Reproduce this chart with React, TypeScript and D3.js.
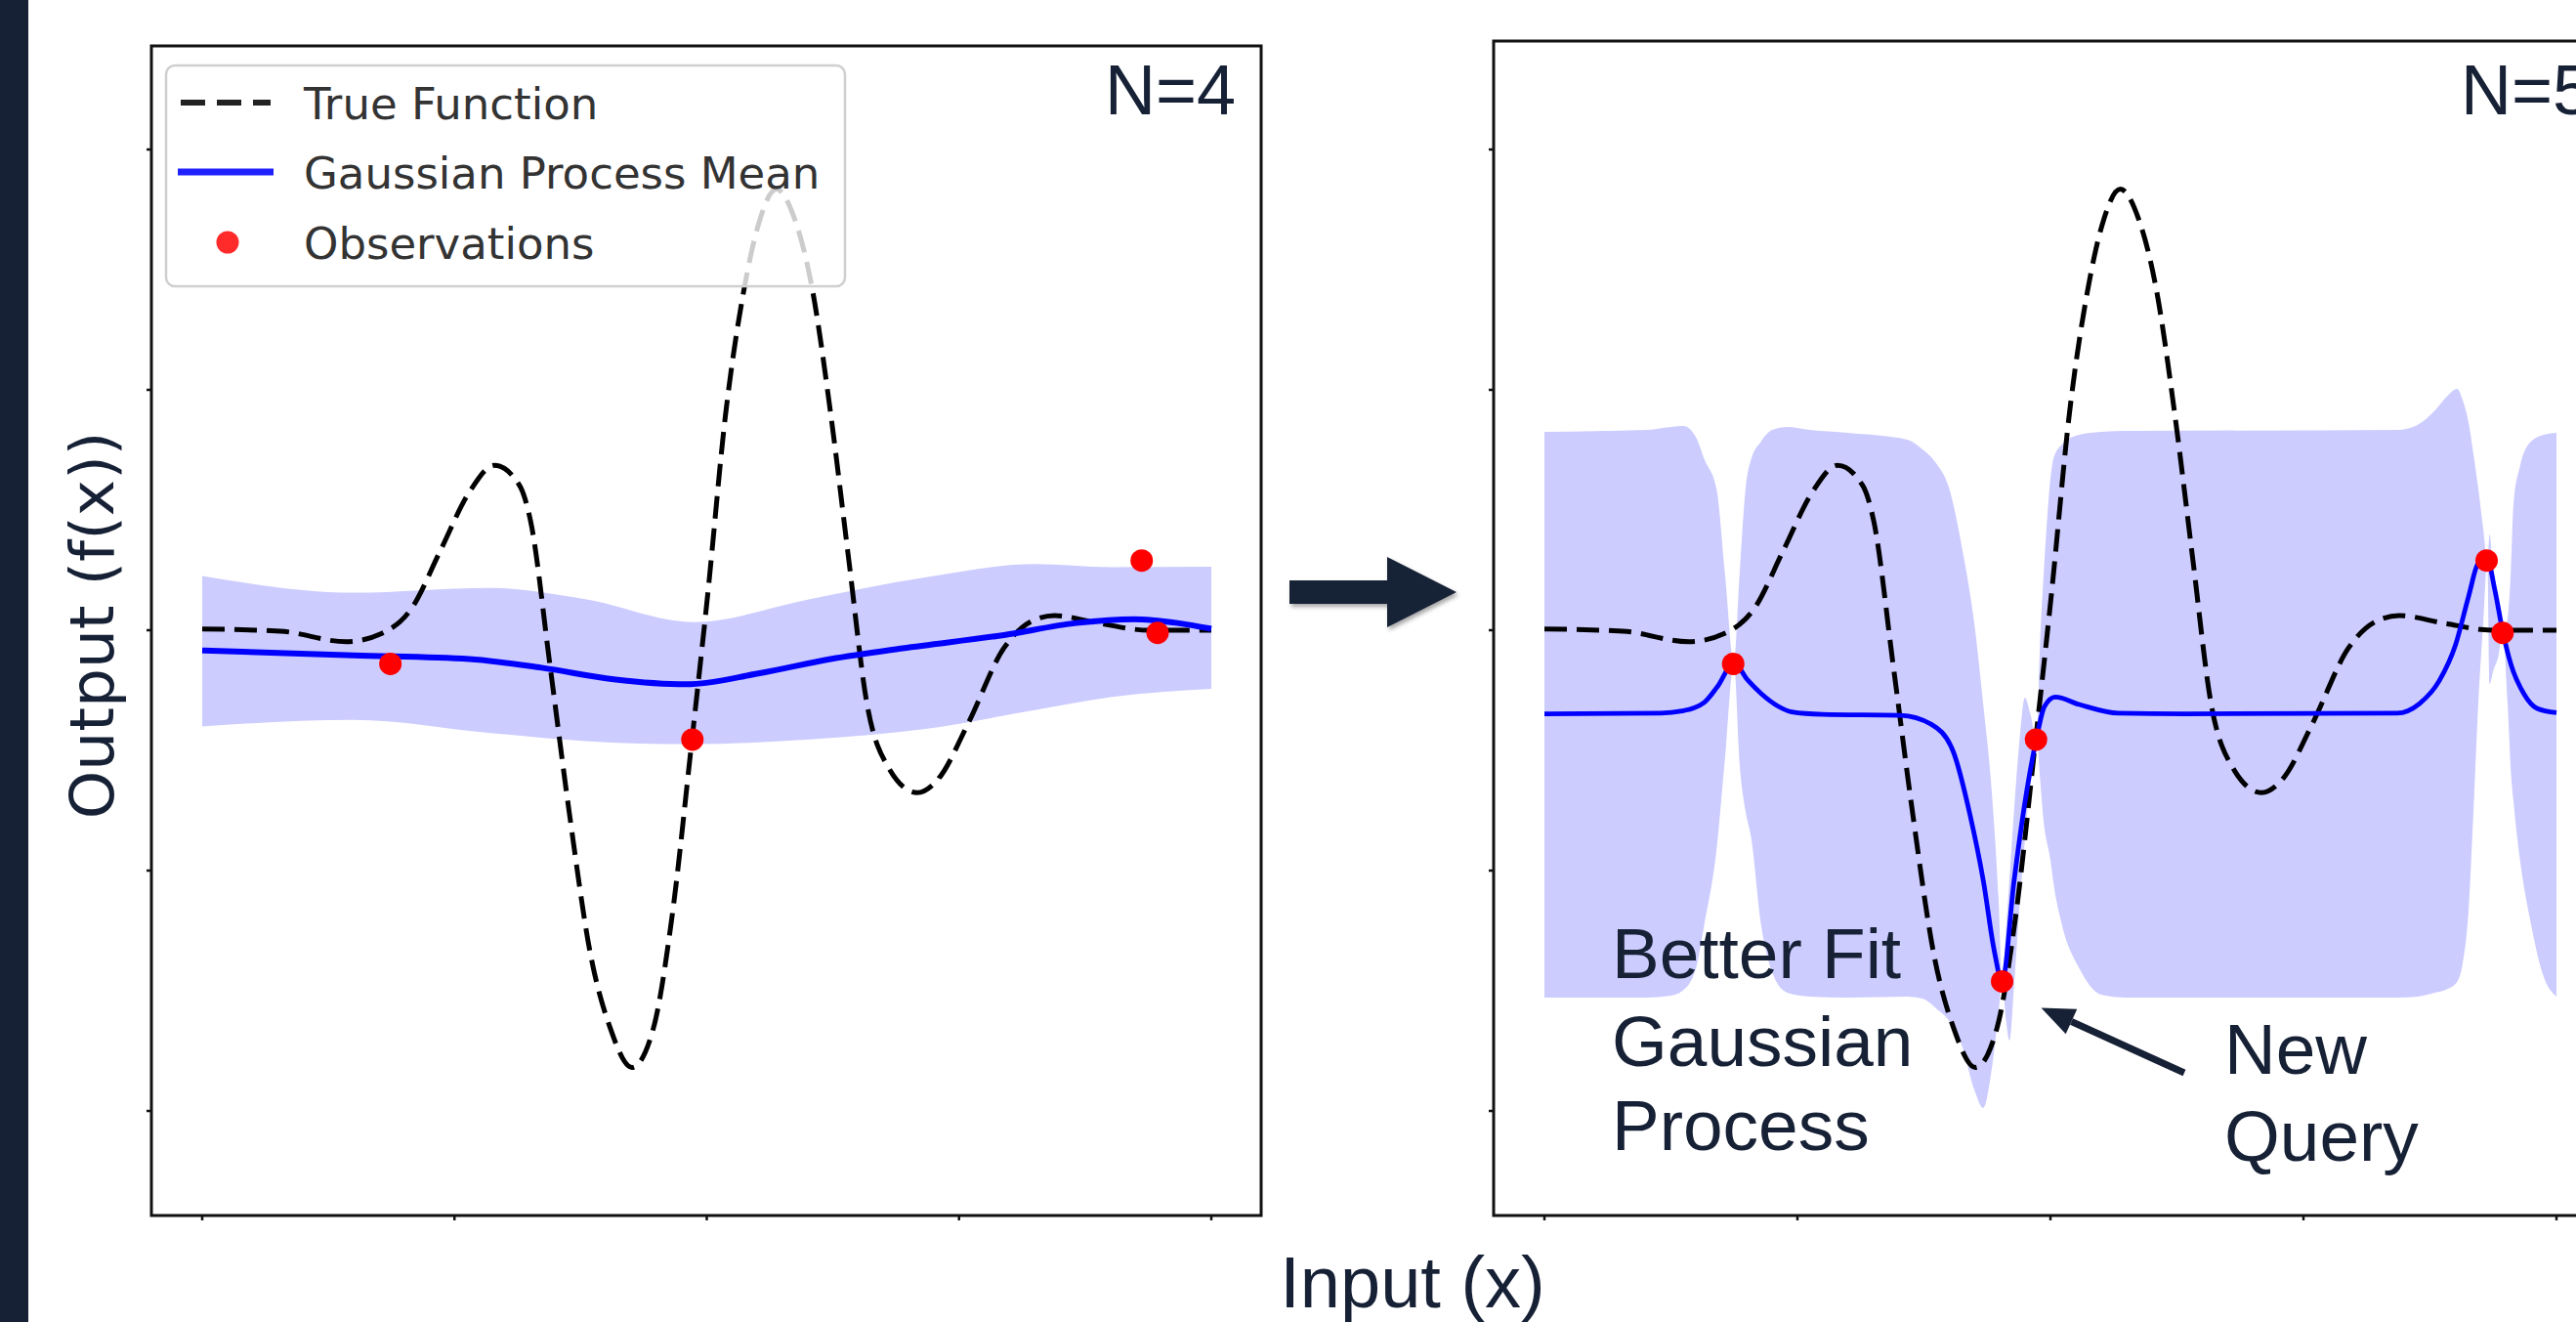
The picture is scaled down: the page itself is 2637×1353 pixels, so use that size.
import React from 'react';
import * as d3 from 'd3';

// values (x in [-2, 2], y in output units)
const trueFunction: [number, number][] = [
  [-2.0, 0.005], [-1.69, -0.004], [-1.43, -0.048], [-1.29, -0.014], [-1.17, 0.091],
  [-1.056, 0.331], [-0.942, 0.573], [-0.841, 0.686], [-0.742, 0.602], [-0.698, 0.452],
  [-0.621, -0.15], [-0.546, -0.751], [-0.46, -1.353], [-0.383, -1.654], [-0.297, -1.819],
  [-0.211, -1.654], [-0.139, -1.202], [-0.059, -0.459], [0.004, 0.151], [0.075, 0.902],
  [0.147, 1.414], [0.204, 1.685], [0.276, 1.835], [0.347, 1.715], [0.419, 1.415],
  [0.491, 0.902], [0.562, 0.301], [0.634, -0.3], [0.72, -0.571], [0.834, -0.676],
  [0.92, -0.616], [1.035, -0.39], [1.178, -0.074], [1.293, 0.04], [1.379, 0.061],
  [1.551, 0.03], [1.751, 0.0], [2.0, 0.0],
];

// N=4 : GP mean and band [x, lower, upper]
const meanN4: [number, number][] = [
  [-2.0, -0.084], [-1.4, -0.105], [-0.942, -0.12], [-0.655, -0.156], [-0.369, -0.204],
  [-0.082, -0.225], [0.204, -0.18], [0.491, -0.12], [0.777, -0.075], [1.178, -0.02],
  [1.465, 0.03], [1.694, 0.046], [1.866, 0.03], [2.0, 0.006],
];
const bandN4: [number, number, number][] = [
  [-2.0, -0.4, 0.226], [-1.4, -0.373, 0.156], [-0.867, -0.427, 0.176], [-0.482, -0.461, 0.129],
  [-0.052, -0.474, 0.034], [0.408, -0.454, 0.129], [0.852, -0.413, 0.217], [1.3, -0.332, 0.275],
  [1.6, -0.278, 0.262], [2.0, -0.244, 0.264],
];

// N=5 : GP mean and band [x, lower, upper]
const meanN5: [number, number][] = [
  [-2.0, -0.348], [-1.541, -0.345], [-1.456, -0.336], [-1.368, -0.3], [-1.317, -0.236],
  [-1.251, -0.137], [-1.197, -0.207], [-1.144, -0.263], [-1.075, -0.317], [-1.023, -0.34],
  [-0.9, -0.35], [-0.593, -0.354], [-0.472, -0.391], [-0.386, -0.5], [-0.317, -0.772],
  [-0.265, -1.044], [-0.222, -1.334], [-0.191, -1.461], [-0.144, -1.044], [-0.101, -0.717],
  [-0.055, -0.45], [-0.024, -0.318], [0.019, -0.278], [0.114, -0.309], [0.27, -0.345],
  [0.533, -0.348], [1.37, -0.345], [1.459, -0.305], [1.537, -0.21], [1.601, -0.061],
  [1.653, 0.142], [1.691, 0.278], [1.727, 0.294], [1.756, 0.17], [1.788, -0.007],
  [1.82, -0.142], [1.871, -0.264], [1.923, -0.325], [2.0, -0.343],
];
const bandN5: [number, number, number][] = [
  [-2.0, -1.528, 0.825], [-1.6, -1.528, 0.833], [-1.5, -1.52, 0.846], [-1.45, -1.496, 0.85],
  [-1.4, -1.402, 0.801], [-1.368, -1.224, 0.711], [-1.32, -0.915, 0.589], [-1.286, -0.528, 0.228],
  [-1.251, -0.138, -0.138], [-1.229, -0.549, 0.228], [-1.205, -0.752, 0.589], [-1.183, -0.862, 0.711],
  [-1.144, -1.224, 0.785], [-1.1, -1.423, 0.833], [-1.04, -1.508, 0.846], [-0.95, -1.524, 0.833],
  [-0.8, -1.528, 0.821], [-0.567, -1.524, 0.793], [-0.505, -1.533, 0.752], [-0.452, -1.573, 0.695],
  [-0.4, -1.626, 0.589], [-0.35, -1.728, 0.346], [-0.3, -1.915, 0.02], [-0.266, -1.988, -0.305],
  [-0.232, -1.825, -0.671], [-0.205, -1.589, -1.118], [-0.191, -1.463, -1.463], [-0.175, -1.626, -1.24],
  [-0.162, -1.707, -1.037], [-0.144, -1.484, -0.752], [-0.123, -1.159, -0.467], [-0.101, -0.874, -0.28],
  [-0.08, -0.63, -0.346], [-0.055, -0.451, -0.451], [-0.04, -0.63, -0.02], [-0.027, -0.793, 0.228],
  [0.0, -0.955, 0.63], [0.011, -1.045, 0.711], [0.045, -1.224, 0.772], [0.114, -1.407, 0.813],
  [0.2, -1.516, 0.825], [0.3, -1.528, 0.829], [1.37, -1.528, 0.833], [1.45, -1.524, 0.854],
  [1.52, -1.508, 0.915], [1.57, -1.492, 0.976], [1.607, -1.463, 1.004], [1.63, -1.382, 0.955],
  [1.653, -1.159, 0.862], [1.672, -0.752, 0.732], [1.691, -0.305, 0.589], [1.71, 0.02, 0.427],
  [1.727, 0.293, 0.293], [1.736, -0.224, 0.398], [1.75, -0.17, 0.224], [1.77, -0.11, 0.081],
  [1.788, -0.008, -0.008], [1.807, -0.305, 0.049], [1.82, -0.589, 0.252], [1.83, -0.711, 0.52],
  [1.856, -0.955, 0.683], [1.895, -1.199, 0.78], [1.95, -1.443, 0.813], [2.0, -1.524, 0.821],
];

const observations: [number, number][] = [
  [-1.254, -0.14], [-0.057, -0.455], [1.724, 0.29], [1.787, -0.011],
];
const newQuery: [number, number][] = [[-0.191, -1.461]];

const xTicks = [-2, -1, 0, 1, 2];
const yTicks = [-2, -1, 0, 1, 2];
const legendItems = ['True Function', 'Gaussian Process Mean', 'Observations'];

const W = 2637;
const H = 1353;
const NAVY = '#172136';
const BAND = '#ccccff';
const BLUE = '#0000ff';
const RED = '#ff0000';
const SLIDE_FONT = "'Liberation Sans', Arial, sans-serif";
const MPL_FONT = "'DejaVu Sans', sans-serif";

const yScale = d3.scaleLinear().domain([-2, 2]).range([1137, 153]);

type PanelProps = {
  id: string;
  frame: { x: number; y: number; w: number; h: number };
  xScale: d3.ScaleLinear<number, number>;
  band: [number, number, number][];
  mean: [number, number][];
  points: [number, number][];
  meanWidth: number;
};

function Panel({ id, frame, xScale, band, mean, points, meanWidth }: PanelProps) {
  const area = d3.area<[number, number, number]>()
    .x(d => xScale(d[0]))
    .y0(d => yScale(d[1]))
    .y1(d => yScale(d[2]))
    .curve(d3.curveMonotoneX);
  const line = d3.line<[number, number]>()
    .x(d => xScale(d[0]))
    .y(d => yScale(d[1]))
    .curve(d3.curveMonotoneX);
  const bottom = frame.y + frame.h;
  return (
    <g>
      <defs>
        <clipPath id={id}>
          <rect x={frame.x} y={frame.y} width={frame.w} height={frame.h} />
        </clipPath>
      </defs>
      <g clipPath={`url(#${id})`}>
        <path d={area(band) || ''} fill={BAND} />
        <path d={line(trueFunction) || ''} fill="none" stroke="#000" strokeWidth={5}
          strokeDasharray="23 10" strokeLinecap="butt" />
        <path d={line(mean) || ''} fill="none" stroke={BLUE} strokeWidth={meanWidth} />
        {points.map((p, i) => (
          <circle key={i} cx={xScale(p[0])} cy={yScale(p[1])} r={11.5} fill={RED} />
        ))}
      </g>
      <rect x={frame.x} y={frame.y} width={frame.w} height={frame.h} fill="none" stroke="#111" strokeWidth={3} />
      {xTicks.map(t => (
        <line key={'x' + t} x1={xScale(t)} x2={xScale(t)} y1={bottom} y2={bottom + 5} stroke="#111" strokeWidth={2.5} />
      ))}
      {yTicks.map(t => (
        <line key={'y' + t} x1={frame.x} x2={frame.x - 5} y1={yScale(t)} y2={yScale(t)} stroke="#111" strokeWidth={2.5} />
      ))}
    </g>
  );
}

function Legend() {
  const rowY = [105, 176, 248];
  return (
    <g>
      <rect x={170} y={67} width={695} height={226} rx={9} fill="#fff" fillOpacity={0.8} stroke="#cfcfcf" strokeWidth={2.5} />
      <line x1={185} x2={277} y1={rowY[0]} y2={rowY[0]} stroke="#222" strokeWidth={6} strokeDasharray="25 12" />
      <line x1={182} x2={280} y1={rowY[1]} y2={rowY[1]} stroke="#2020ff" strokeWidth={7} />
      <circle cx={233} cy={rowY[2]} r={11.5} fill="#ff2a2a" />
      {legendItems.map((t, i) => (
        <text key={t} x={311} y={rowY[i] + 17} fontFamily={MPL_FONT} fontSize={45} fill="#333">{t}</text>
      ))}
    </g>
  );
}

export default function App() {
  const xLeft = d3.scaleLinear().domain([-2, 2]).range([207, 1240]);
  const xRight = d3.scaleLinear().domain([-2, 2]).range([1581, 2617]);

  // annotation arrow pointing at the new query
  const tip: [number, number] = [xRight(newQuery[0][0]) + 40, yScale(newQuery[0][1]) + 27];
  const tail: [number, number] = [2236, 1098];
  const dx = tip[0] - tail[0];
  const dy = tip[1] - tail[1];
  const len = Math.hypot(dx, dy);
  const ux = dx / len;
  const uy = dy / len;
  const headLen = 34;
  const headHalf = 14;
  const base: [number, number] = [tip[0] - ux * headLen, tip[1] - uy * headLen];
  const head = [
    tip,
    [base[0] - uy * headHalf, base[1] + ux * headHalf],
    [base[0] + uy * headHalf, base[1] - ux * headHalf],
  ].map(p => p.join(',')).join(' ');

  return (
    <div style={{ position: 'absolute', left: 0, top: 0 }}>
      <svg width={W} height={H} viewBox={`0 0 ${W} ${H}`} style={{ display: 'block', background: '#fff' }}>
        <defs>
          <filter id="shadow" x="-20%" y="-40%" width="140%" height="180%">
            <feDropShadow dx="2" dy="3" stdDeviation="2" floodColor="#000" floodOpacity="0.35" />
          </filter>
        </defs>
        <rect x={0} y={0} width={29} height={H} fill={NAVY} />

        <Panel id="clipL" frame={{ x: 155, y: 47, w: 1136, h: 1197 }} xScale={xLeft}
          band={bandN4} mean={meanN4} points={observations} meanWidth={6} />
        <Legend />
        <text x={1265} y={117} textAnchor="end" fontFamily={SLIDE_FONT} fontSize={72} fill={NAVY}>N=4</text>

        <Panel id="clipR" frame={{ x: 1529, y: 42, w: 1140, h: 1202 }} xScale={xRight}
          band={bandN5} mean={meanN5} points={[...observations, ...newQuery]} meanWidth={4.8} />
        <text x={2519} y={117} fontFamily={SLIDE_FONT} fontSize={72} fill={NAVY}>N=5</text>

        <polygon
          points="1320,594 1420,594 1420,570 1491,606 1420,642 1420,618 1320,618"
          fill={NAVY} filter="url(#shadow)" />

        <g fontFamily={SLIDE_FONT} fontSize={73} fill={NAVY}>
          <text x={1650} y={1001}>Better Fit</text>
          <text x={1650} y={1091}>Gaussian</text>
          <text x={1650} y={1177}>Process</text>
          <text x={2277} y={1099}>New</text>
          <text x={2277} y={1188}>Query</text>
        </g>
        <line x1={tail[0]} y1={tail[1]} x2={base[0]} y2={base[1]} stroke={NAVY} strokeWidth={7} />
        <polygon points={head} fill={NAVY} />

        <text transform="translate(116,640) rotate(-90)" textAnchor="middle" fontFamily={MPL_FONT}
          fontSize={63} fill={NAVY}>Output (f(x))</text>
        <text x={1446} y={1338} textAnchor="middle" fontFamily={SLIDE_FONT} fontSize={74} fill={NAVY}>Input (x)</text>
      </svg>
    </div>
  );
}
